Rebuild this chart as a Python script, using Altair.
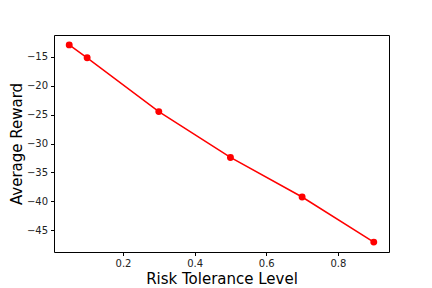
import altair as alt
import pandas as pd

risk = [0.05, 0.1, 0.3, 0.5, 0.7, 0.9]
reward = [-12.93, -15.17, -24.48, -32.41, -39.26, -47.07]

df = pd.DataFrame({"risk": risk, "reward": reward})

minus = "replace(datum.label, '-', '\u2212')"

x = alt.X("risk:Q", title="Risk Tolerance Level",
          scale=alt.Scale(domain=[0.0075, 0.9425], nice=False, zero=False),
          axis=alt.Axis(values=[0.2, 0.4, 0.6, 0.8], format=".1f", grid=False,
                        tickSize=3.5, tickColor="black", domain=False,
                        labelFontSize=10, labelColor="#222", labelFont="DejaVu Sans",
                        labelPadding=3, titleFontSize=15, titleFont="DejaVu Sans",
                        titleFontWeight="normal", titleColor="black", titlePadding=3))
y = alt.Y("reward:Q", title="Average Reward",
          scale=alt.Scale(domain=[-48.78, -11.22], nice=False, zero=False),
          axis=alt.Axis(values=[-15, -20, -25, -30, -35, -40, -45], grid=False,
                        tickSize=3.5, tickColor="black", domain=False,
                        labelFontSize=10, labelColor="#222", labelFont="DejaVu Sans",
                        labelPadding=3, labelExpr=minus,
                        titleFontSize=15, titleFont="DejaVu Sans",
                        titleFontWeight="normal", titleColor="black", titlePadding=2))

base = alt.Chart(df)
line = base.mark_line(color="red", strokeWidth=1.5).encode(x=x, y=y)
pts = base.mark_circle(color="red", size=48, opacity=1).encode(x=x, y=y)

chart = (line + pts).properties(
    width=335, height=217,
    autosize=alt.AutoSizeParams(type="none"),
    padding={"left": 46, "top": 27, "right": 35, "bottom": 36},
).configure(background="white").configure_view(stroke="black", strokeWidth=1)

chart.save("out.html", embed_options={"renderer": "svg", "actions": False})
